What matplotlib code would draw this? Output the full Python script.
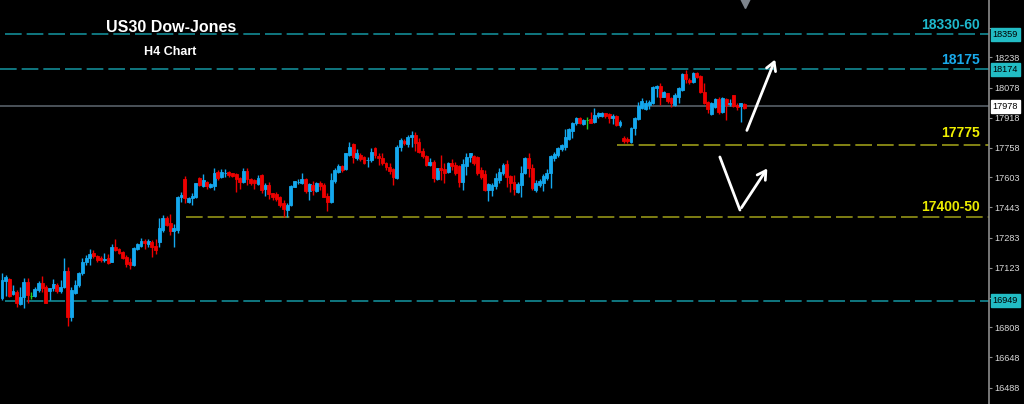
import matplotlib.pyplot as plt
import matplotlib.transforms as mtransforms
import numpy as np

plt.rcParams['lines.scale_dashes'] = False

# ------------------------
# H4 CANDLES (US30, price)
# ------------------------
opens = [
    16963, 17053, 17064, 16984, 16996, 16931, 16967, 17048, 16974, 16974,
    17005, 17044, 17023, 17002, 17016, 17032, 17002, 17023, 17106, 16864,
    16991, 17030, 17094, 17154, 17177, 17200, 17186, 17173, 17164, 17173,
    17155, 17235, 17223, 17208, 17182, 17152, 17138, 17223, 17238, 17267,
    17247, 17261, 17238, 17261, 17323, 17388, 17362, 17318, 17323, 17496,
    17592, 17470, 17491, 17496, 17597, 17556, 17579, 17553, 17556, 17632,
    17602, 17625, 17632, 17624, 17618, 17597, 17579, 17636, 17592, 17588,
    17567, 17615, 17539, 17562, 17518, 17512, 17500, 17465, 17429, 17456,
    17553, 17577, 17574, 17592, 17531, 17562, 17531, 17574, 17562, 17503,
    17473, 17583, 17632, 17662, 17645, 17720, 17779, 17703, 17720, 17708,
    17692, 17692, 17756, 17715, 17703, 17680, 17658, 17645, 17597, 17764,
    17796, 17779, 17817, 17826, 17791, 17743, 17715, 17667, 17685, 17592,
    17650, 17645, 17632, 17680, 17667, 17662, 17579, 17662, 17708, 17715,
    17711, 17641, 17618, 17535, 17535, 17556, 17588, 17624, 17673, 17609,
    17579, 17526, 17562, 17624, 17706, 17650, 17535, 17562, 17574, 17597,
    17624, 17706, 17720, 17751, 17764, 17804, 17849, 17888, 17915, 17885,
    17906, 17910, 17897, 17927, 17927, 17941, 17938, 17915, 17927, 17879,
    17809, 17805, 17791, 17862, 17910, 17968, 17963, 17985, 17994, 18074,
    18086, 18029, 18047, 18021, 17985, 18029, 18065, 18150, 18118, 18109,
    18156, 18139, 18056, 18003, 17938, 17976, 18016, 17950, 18016, 17992,
    18038, 17985, 17980, 17990,
]
highs = [
    17095, 17085, 17069, 17032, 17005, 17023, 17069, 17069, 16996, 17023,
    17053, 17081, 17032, 17018, 17065, 17041, 17058, 17177, 17129, 17023,
    17058, 17102, 17173, 17191, 17221, 17217, 17191, 17186, 17200, 17195,
    17249, 17274, 17226, 17212, 17191, 17173, 17235, 17253, 17279, 17274,
    17274, 17270, 17274, 17385, 17401, 17397, 17408, 17355, 17505, 17526,
    17609, 17500, 17521, 17574, 17602, 17620, 17584, 17571, 17650, 17641,
    17645, 17645, 17637, 17627, 17624, 17606, 17650, 17650, 17597, 17592,
    17615, 17620, 17571, 17579, 17521, 17526, 17503, 17482, 17465, 17562,
    17584, 17592, 17624, 17597, 17574, 17583, 17579, 17583, 17574, 17518,
    17627, 17650, 17673, 17667, 17733, 17788, 17786, 17751, 17729, 17715,
    17711, 17756, 17761, 17729, 17733, 17685, 17680, 17650, 17773, 17809,
    17804, 17826, 17848, 17844, 17809, 17756, 17720, 17703, 17694, 17653,
    17720, 17680, 17685, 17698, 17685, 17667, 17698, 17729, 17733, 17720,
    17715, 17658, 17641, 17571, 17571, 17624, 17650, 17676, 17694, 17615,
    17615, 17579, 17662, 17711, 17729, 17673, 17588, 17592, 17620, 17645,
    17720, 17738, 17761, 17779, 17857, 17862, 17897, 17923, 17920, 17910,
    17920, 17950, 17968, 17950, 17950, 17945, 17941, 17938, 17932, 17906,
    17821, 17814, 17870, 17923, 18003, 18022, 18012, 18012, 18086, 18091,
    18100, 18061, 18050, 18026, 18047, 18082, 18156, 18171, 18127, 18162,
    18162, 18144, 18100, 18008, 18003, 18021, 18029, 18029, 18021, 18016,
    18038, 17994, 17998, 17994,
]
lows = [
    16952, 16974, 16968, 16979, 16917, 16926, 16910, 16936, 16956, 16968,
    16996, 16996, 16936, 16952, 17002, 16988, 16991, 17014, 16815, 16843,
    16984, 17023, 17085, 17138, 17138, 17173, 17155, 17155, 17155, 17143,
    17152, 17212, 17196, 17168, 17129, 17117, 17133, 17217, 17232, 17221,
    17235, 17182, 17196, 17232, 17314, 17344, 17297, 17235, 17306, 17473,
    17465, 17465, 17454, 17491, 17556, 17549, 17539, 17547, 17535, 17588,
    17597, 17606, 17606, 17602, 17526, 17539, 17571, 17562, 17562, 17539,
    17562, 17521, 17503, 17486, 17482, 17478, 17447, 17394, 17394, 17450,
    17549, 17567, 17567, 17518, 17482, 17509, 17526, 17535, 17496, 17425,
    17468, 17574, 17624, 17632, 17641, 17715, 17676, 17694, 17690, 17673,
    17655, 17683, 17703, 17667, 17667, 17641, 17620, 17562, 17592, 17743,
    17773, 17764, 17764, 17743, 17733, 17703, 17662, 17662, 17579, 17588,
    17588, 17571, 17627, 17641, 17615, 17553, 17535, 17615, 17685, 17667,
    17615, 17592, 17531, 17478, 17503, 17539, 17571, 17615, 17553, 17526,
    17509, 17518, 17496, 17620, 17602, 17535, 17526, 17553, 17531, 17588,
    17546, 17690, 17711, 17743, 17747, 17800, 17809, 17879, 17885, 17879,
    17857, 17888, 17888, 17915, 17920, 17915, 17888, 17885, 17874, 17867,
    17786, 17786, 17786, 17826, 17906, 17963, 17959, 17963, 17990, 18026,
    17985, 18026, 17998, 17976, 17980, 17998, 18061, 18100, 18097, 18103,
    18127, 18050, 17990, 17941, 17932, 17968, 17938, 17945, 17906, 17980,
    17976, 17959, 17897, 17963,
]
closes = [
    17058, 17074, 16974, 17002, 16935, 16970, 17049, 16979, 16974, 17011,
    17044, 17014, 16938, 17016, 17037, 17002, 17023, 17106, 16864, 17005,
    17032, 17097, 17154, 17175, 17195, 17186, 17164, 17164, 17170, 17150,
    17235, 17217, 17203, 17173, 17143, 17138, 17226, 17247, 17267, 17253,
    17267, 17235, 17217, 17332, 17388, 17350, 17318, 17332, 17500, 17509,
    17491, 17494, 17503, 17571, 17562, 17588, 17556, 17565, 17624, 17597,
    17632, 17627, 17615, 17609, 17592, 17579, 17637, 17592, 17574, 17571,
    17597, 17535, 17562, 17514, 17496, 17486, 17456, 17433, 17456, 17558,
    17583, 17579, 17592, 17531, 17565, 17535, 17571, 17558, 17500, 17473,
    17588, 17641, 17662, 17641, 17729, 17764, 17711, 17729, 17698, 17680,
    17694, 17736, 17720, 17703, 17680, 17655, 17637, 17602, 17764, 17800,
    17782, 17817, 17826, 17786, 17738, 17715, 17667, 17685, 17597, 17650,
    17641, 17627, 17680, 17662, 17624, 17579, 17671, 17711, 17729, 17676,
    17627, 17606, 17535, 17567, 17562, 17597, 17632, 17667, 17602, 17574,
    17539, 17567, 17627, 17703, 17650, 17544, 17574, 17584, 17609, 17627,
    17715, 17724, 17756, 17773, 17817, 17857, 17892, 17915, 17888, 17906,
    17906, 17892, 17932, 17945, 17945, 17927, 17915, 17927, 17879, 17897,
    17796, 17795, 17862, 17915, 17980, 18008, 17998, 18003, 18082, 18086,
    18029, 18056, 18008, 17998, 18038, 18074, 18150, 18121, 18109, 18156,
    18132, 18056, 17998, 17963, 17994, 18016, 17950, 18021, 17985, 17994,
    17980, 17976, 17994, 17968,
]

# price scale ticks on the right (18393 and 16963 sit under the price boxes)
tick_prices = [18393, 18238, 18078, 17918, 17758, 17603, 17443, 17283, 17123, 16963, 16808, 16648, 16488]
tick_labels = ["", "18238", "18078", "17918", "17758", "17603", "17443", "17283", "17123", "", "16808", "16648", "16488"]

# drawn levels: price, first bar, colour
level_prices = [18359, 18174, 17775, 17390, 16949]
level_starts = [1.8, 0.5, 169.2, 51.3, 1.8]
level_colors = ["#1497a3", "#1497a3", "#a8a81a", "#a0a018", "#1497a3"]
current_price = 17978

# price boxes on the axis
box_prices = [18359, 18174, 17978, 16949]
box_faces = ["#22bcc4", "#22bcc4", "#ffffff", "#22bcc4"]

# level captions
caption_texts = ["18330-60", "18175", "17775", "17400-50"]
caption_prices = [18409, 18224, 17835, 17447]
caption_colors = ["#1eb9cd", "#19aaeb", "#f0f000", "#eaea00"]

# hand drawn arrows (bar index, price)
arrow_up_x = [204.4, 212.7]
arrow_up_y = [17837, 18240]
arrow_v_x = [197.3, 202.8, 210.7]
arrow_v_y = [17710, 17429, 17662]

BULL = "#14a8ee"
BEAR = "#ee0000"
DOJI = "#20d020"

# ------
# FIGURE
# ------
fig = plt.figure(figsize=(10.24, 4.04), dpi=100, facecolor="black")
ax = fig.add_axes([0, 0, 989 / 1024, 1])
ax.set_facecolor("black")

o = np.array(opens)
h = np.array(highs)
l = np.array(lows)
c = np.array(closes)
x = np.arange(1, len(o) + 1)
colors = np.where(c > o, BULL, np.where(c < o, BEAR, DOJI))

ax.vlines(x, l, h, colors=colors, linewidth=1.0, zorder=3)
ax.bar(x, c - o, bottom=o, width=0.8, color=colors, edgecolor=colors, linewidth=0.6, zorder=3)

x_left, x_right = 0.453, 270.9
ax.set_xlim(x_left, x_right)
ax.set_ylim(16401.5, 18541.5)

for price, start, col in zip(level_prices, level_starts, level_colors):
    ax.hlines(price, start, x_right, colors=col, linewidth=1.1, linestyles=(0, (12, 3.6)), zorder=2)

ax.axhline(current_price, color="#4b5259", linewidth=1.4, zorder=2)

# arrows
ax.annotate("", xy=(arrow_up_x[1], arrow_up_y[1]), xytext=(arrow_up_x[0], arrow_up_y[0]),
            arrowprops=dict(arrowstyle="->,head_length=0.6,head_width=0.35", color="white", lw=2.0))
ax.plot(arrow_v_x[:2], arrow_v_y[:2], color="white", lw=2.0, solid_capstyle="round")
ax.annotate("", xy=(arrow_v_x[2], arrow_v_y[2]), xytext=(arrow_v_x[1], arrow_v_y[1]),
            arrowprops=dict(arrowstyle="->,head_length=0.6,head_width=0.35", color="white", lw=2.0))

# chart shift marker on top
ax.plot([204.3], [0.992], marker="v", markersize=7, color="#7d848c",
        transform=mtransforms.blended_transform_factory(ax.transData, ax.transAxes), clip_on=False)

# axes look
ax.set_xticks([])
for side in ["left", "top", "bottom"]:
    ax.spines[side].set_visible(False)
ax.spines["right"].set_color("#8c8c8c")
ax.spines["right"].set_linewidth(1.2)
ax.yaxis.tick_right()
ax.set_yticks(tick_prices)
ax.set_yticklabels(tick_labels, fontfamily="Liberation Sans")
ax.tick_params(axis="y", colors="#8c8c8c", labelcolor="#d8d8d8", labelsize=6.6, length=2.5, width=0.8, pad=1.5)

trans = mtransforms.blended_transform_factory(ax.transAxes, ax.transData)
for price, face in zip(box_prices, box_faces):
    ax.text(1.0035, price, str(price), transform=trans, ha="left", va="center", fontsize=6.6,
            fontfamily="Liberation Sans", color="black", clip_on=False, zorder=5,
            bbox=dict(boxstyle="square,pad=0.2", facecolor=face, edgecolor=face))

for txt, price, col in zip(caption_texts, caption_prices, caption_colors):
    ax.text(980 / 989, price, txt, transform=trans, ha="right", va="center", fontsize=10,
            fontweight="bold", fontfamily="Liberation Sans", color=col, zorder=5)

fig.text(171.5 / 1024, 1 - 27.5 / 404, "US30 Dow-Jones", ha="center", va="center", fontsize=11.5,
         fontweight="bold", fontfamily="Liberation Sans", color="white")
fig.text(170.5 / 1024, 1 - 52.3 / 404, "H4 Chart", ha="center", va="center", fontsize=9,
         fontweight="bold", fontfamily="Liberation Sans", color="white")

fig.savefig("out.png", dpi=100, facecolor="black")
plt.close()
